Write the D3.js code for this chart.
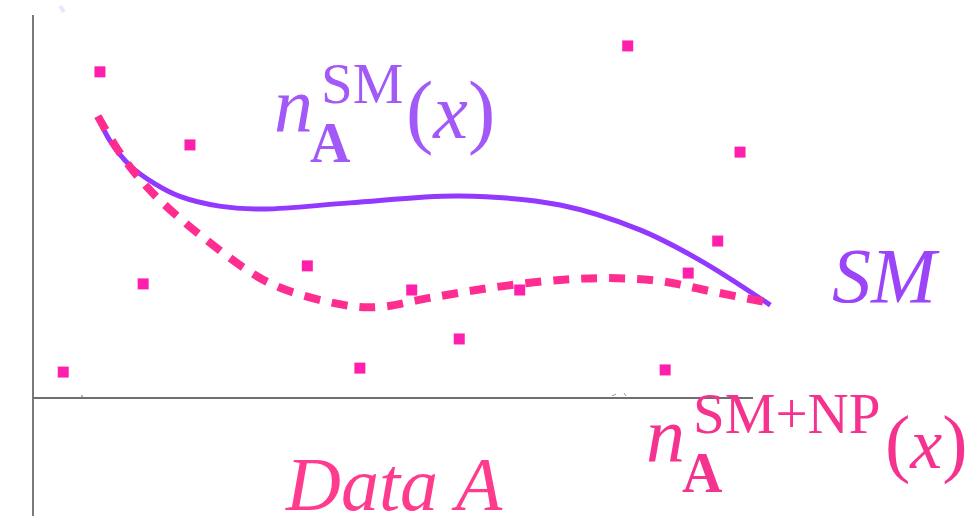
<!DOCTYPE html>
<html lang="en">
<head>
  <meta charset="UTF-8">
  <title>n_A SM vs SM+NP</title>
  <script src="https://d3js.org/d3.v7.min.js"></script>
  <style>
    html, body { margin: 0; padding: 0; background: #fff; }
    svg { display: block; }
  </style>
</head>
<body>
  <script>
    // data (arbitrary units, x and y both 0..100 along the axes)
    var pointX = [4.2, 9.3, 21.8, 15.3, 38.1, 45.4, 52.6, 59.2, 67.6, 82.6, 87.8, 91.0, 95.1, 98.2];
    var pointY = [7.2, 90.6, 70.3, 31.7, 36.7, 8.3, 30.0, 16.4, 30.0, 97.8, 7.8, 34.7, 43.6, 68.3];

    var smX = [9.0, 10.7, 13.5, 17.0, 20.4, 25.9, 32.2, 44.0, 59.3, 73.2, 84.3, 92.6, 102.4];
    var smY = [78.1, 71.4, 64.5, 59.4, 56.0, 53.3, 52.5, 54.2, 56.1, 53.6, 46.7, 38.3, 25.8];

    var npX = [9.0, 11.7, 14.4, 17.6, 23.2, 32.9, 43.3, 48.2, 55.1, 63.5, 73.2, 80.1, 87.1, 94.0, 102.4];
    var npY = [78.3, 69.2, 61.9, 55.0, 45.3, 31.9, 25.8, 25.3, 27.8, 30.6, 32.8, 33.3, 32.5, 29.7, 26.4];

    var width = 973, height = 519;

    var svg = d3.select("body")
      .append("svg")
        .attr("width", width)
        .attr("height", height);

    var x = d3.scaleLinear().domain([0, 100]).range([33, 753]);
    var y = d3.scaleLinear().domain([0, 100]).range([398, 38]);

    // faint smudge top-left
    svg.append("path")
      .attr("d", "M60,6 L64,12")
      .attr("stroke", "#ece4fb")
      .attr("stroke-width", 4);

    // axes, plain lines with no ticks
    svg.append("line")
      .attr("x1", x(0)).attr("x2", x(0))
      .attr("y1", 15).attr("y2", 516)
      .attr("stroke", "#7a7a7a")
      .attr("stroke-width", 2);

    svg.append("line")
      .attr("x1", x(0)).attr("x2", x(100))
      .attr("y1", y(0)).attr("y2", y(0))
      .attr("stroke", "#6e6e6e")
      .attr("stroke-width", 2);

    // little stray marks on the x axis
    svg.append("circle").attr("cx", 82).attr("cy", y(0) - 2).attr("r", 0.8).attr("fill", "#555");
    svg.append("path")
      .attr("d", "M612,396 L616,394 M624,393 L626,396")
      .attr("stroke", "#999").attr("stroke-width", 1).attr("fill", "none");

    var line = d3.line()
      .x(function(d) { return x(d[0]); })
      .y(function(d) { return y(d[1]); })
      .curve(d3.curveCatmullRom.alpha(0.5));

    var smData = smX.map(function(v, i) { return [v, smY[i]]; });
    var npData = npX.map(function(v, i) { return [v, npY[i]]; });

    svg.append("path")
      .datum(smData)
      .attr("d", line)
      .attr("fill", "none")
      .attr("stroke", "#9238ff")
      .attr("stroke-width", 5);

    svg.append("path")
      .datum(npData)
      .attr("d", line)
      .attr("fill", "none")
      .attr("stroke", "#ff2d8f")
      .attr("stroke-width", 8)
      .attr("stroke-dasharray", "16,12");

    // scatter
    var sq = 11;
    svg.selectAll("rect.pt")
      .data(pointX.map(function(v, i) { return [v, pointY[i]]; }))
      .enter()
      .append("rect")
        .attr("class", "pt")
        .attr("x", function(d) { return x(d[0]) - sq / 2; })
        .attr("y", function(d) { return y(d[1]) - sq / 2; })
        .attr("width", sq)
        .attr("height", sq)
        .attr("fill", "#ff1fac");

    // labels
    var serif = "'Liberation Serif', 'DejaVu Serif', serif";

    function mathLabel(x0, base, sup, color, parenX, parenSize) {
      var t = svg.append("text")
        .attr("font-family", serif)
        .attr("fill", color);
      t.append("tspan").attr("x", x0).attr("y", base)
        .attr("font-style", "italic").attr("font-size", 78).text("n");
      t.append("tspan").attr("x", x0 + 47).attr("y", base - 29)
        .attr("font-size", 57).text(sup);
      t.append("tspan").attr("x", x0 + 36).attr("y", base + 30)
        .attr("font-size", 56).attr("font-weight", "bold").text("A");
      t.append("tspan").attr("x", parenX).attr("y", base + 6)
        .attr("font-size", parenSize).text("(");
      t.append("tspan").attr("font-style", "italic").attr("font-size", parenSize - 4).text("x");
      t.append("tspan").attr("font-size", parenSize).text(")");
    }

    mathLabel(274, 132, "SM", "#a259f7", 406, 82);
    mathLabel(646, 462, "SM+NP", "#f5338f", 885, 76);

    svg.append("text")
      .attr("x", 832).attr("y", 302)
      .attr("font-family", serif)
      .attr("font-style", "italic")
      .attr("font-size", 78)
      .attr("fill", "#9b44f8")
      .text("SM");

    svg.append("text")
      .attr("x", 286).attr("y", 510)
      .attr("font-family", serif)
      .attr("font-style", "italic")
      .attr("font-size", 76)
      .attr("fill", "#ff3b8e")
      .text("Data A");
  </script>
</body>
</html>
